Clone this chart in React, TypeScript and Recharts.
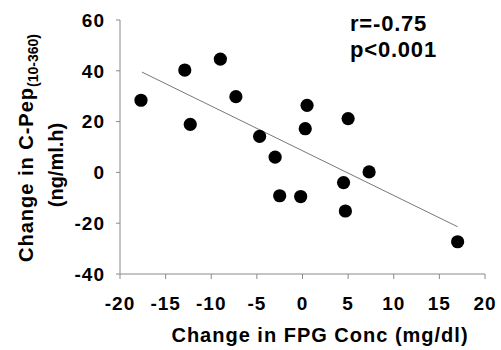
import { ScatterChart, Scatter, XAxis, YAxis, ReferenceLine, Label } from 'recharts'

// Change in FPG Conc (mg/dl) vs change in C-Pep (ng/ml.h)
const fpgChange = [-17.7, -12.9, -9.0, -12.3, -7.3, -4.7, -3.0, 0.5, 0.3, 5.0, 7.3, -2.5, -0.2, 4.5, 4.7, 17.0]
const cpepChange = [28.4, 40.3, 44.6, 18.9, 29.8, 14.2, 6.0, 26.4, 17.2, 21.2, 0.2, -9.2, -9.5, -4.0, -15.2, -27.3]

const xTicks = [-20, -15, -10, -5, 0, 5, 10, 15, 20]
const yTicks = [-40, -20, 0, 20, 40, 60]

// fitted line end points
const trendStart = { x: -17.6, y: 39.5 }
const trendEnd = { x: 17.0, y: -21.4 }

const points = fpgChange.map((x, i) => ({ x, y: cpepChange[i] }))

const FONT = '"Liberation Sans", Arial, sans-serif'
const AXIS_GRAY = '#8a8a8a'
const tickStyle = { fontSize: 19, fontWeight: 'bold', fill: '#000', fontFamily: FONT, letterSpacing: 1 }

const Dot = (props: any) => <circle cx={props.cx} cy={props.cy} r={6.6} fill="#000" />

const Annotations = () => (
  <g fontFamily={FONT} fontWeight="bold" fill="#000">
    <text x={33} y={262} fontSize={20} letterSpacing={1} transform="rotate(-90, 33, 262)">
      Change in C-Pep
      <tspan fontSize={14} letterSpacing={0} dy={5}>(10-360)</tspan>
    </text>
    <text x={63} y={165} fontSize={20} textAnchor="middle" transform="rotate(-90, 63, 165)">
      (ng/ml.h)
    </text>
    <text x={320} y={342} fontSize={20} letterSpacing={1} textAnchor="middle">
      Change in FPG Conc (mg/dl)
    </text>
    <text x={350} y={31} fontSize={22} letterSpacing={0.8}>r=-0.75</text>
    <text x={350} y={57} fontSize={22} letterSpacing={0.8}>p&lt;0.001</text>
  </g>
)

export default function App() {
  return (
    <div style={{ position: 'absolute', left: 0, top: 0, background: '#fff' }}>
      <ScatterChart width={501} height={350} margin={{ top: 20, right: 16, bottom: 0, left: 0 }}>
        <XAxis
          type="number"
          dataKey="x"
          domain={[-20, 20]}
          ticks={xTicks}
          height={76}
          stroke={AXIS_GRAY}
          tickSize={5}
          tickMargin={18}
          tick={tickStyle}
          interval={0}
          allowDataOverflow
        />
        <YAxis
          type="number"
          dataKey="y"
          domain={[-40, 60]}
          ticks={yTicks}
          width={120}
          stroke={AXIS_GRAY}
          tickSize={4}
          tickMargin={11}
          tick={tickStyle}
          interval={0}
          allowDataOverflow
        >
          <Label content={() => <Annotations />} />
        </YAxis>
        <ReferenceLine segment={[trendStart, trendEnd]} stroke="#777" strokeWidth={1} ifOverflow="visible" />
        <Scatter data={points} shape={Dot} isAnimationActive={false} />
      </ScatterChart>
    </div>
  )
}
